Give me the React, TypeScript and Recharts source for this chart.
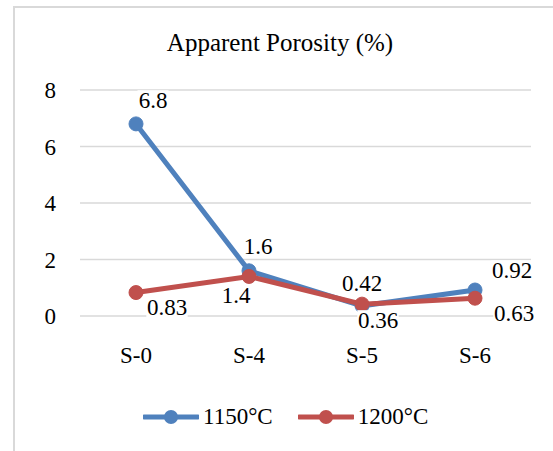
import { LineChart, Line, XAxis, YAxis, CartesianGrid, LabelList } from 'recharts';

const samples = ['S-0', 'S-4', 'S-5', 'S-6'];
const porosity1150 = [6.8, 1.6, 0.36, 0.92];
const porosity1200 = [0.83, 1.4, 0.42, 0.63];
const yTicks = [0, 2, 4, 6, 8];

const seriesInfo = [
    { key: 't1150', name: '1150°C', color: '#4f81bd' },
    { key: 't1200', name: '1200°C', color: '#c0504d' },
];

// label offsets from each point, as Excel placed them
const offsets1150 = [[17, -24], [9, -25], [16, 14], [37, -20]];
const offsets1200 = [[31, 15], [-13, 19], [0, -21], [39, 15]];

const data = samples.map((s, i) => ({
    name: s,
    t1150: porosity1150[i],
    t1200: porosity1200[i],
}));

const FONT = "'Liberation Serif', 'Times New Roman', serif";
const FS = 23;

function makeLabel(offsets: number[][]) {
    return (props: any) => {
        const { x, y, value, index } = props;
        const [dx, dy] = offsets[index];
        const txt = String(value);
        const w = txt.length * FS * 0.45;
        return (
            <g>
                <rect x={x + dx - w / 2} y={y + dy - FS * 0.42} width={w} height={FS * 0.84} fill="#fff" />
                <text x={x + dx} y={y + dy} dy="0.34em" textAnchor="middle" fontSize={FS} fill="#000">
                    {txt}
                </text>
            </g>
        );
    };
}

export default function App() {
    return (
        <div style={{ position: 'absolute', left: 0, top: 0, width: 553, height: 451, overflow: 'hidden', background: '#fff', fontFamily: FONT }}>
            <style>{`.recharts-wrapper text, .recharts-wrapper tspan { font-family: ${FONT} !important; }`}</style>
            <div style={{ position: 'absolute', left: 13, top: 6, width: 600, height: 500, border: '2px solid #d9d9d9' }} />
            <div style={{ position: 'absolute', left: 0, top: 28, width: 560, textAlign: 'center', fontSize: 25, lineHeight: '30px', color: '#000' }}>
                Apparent Porosity (%)
            </div>
            <div style={{ position: 'absolute', left: 0, top: 0 }}>
                <LineChart width={553} height={451} data={data} margin={{ top: 90, right: 22, left: 0, bottom: 95 }}>
                    <CartesianGrid vertical={false} stroke="#d9d9d9" strokeWidth={1.5} />
                    <XAxis
                        dataKey="name"
                        axisLine={false}
                        tickLine={false}
                        tickSize={0}
                        tickMargin={31}
                        height={40}
                        padding={{ left: 56, right: 56 }}
                        tick={{ fill: '#000', fontSize: FS }}
                    />
                    <YAxis
                        domain={[0, 8]}
                        ticks={yTicks}
                        axisLine={false}
                        tickLine={false}
                        tickSize={0}
                        tickMargin={24}
                        width={80}
                        tick={{ fill: '#000', fontSize: FS }}
                    />
                    <Line
                        dataKey="t1150"
                        name="1150°C"
                        stroke="#4f81bd"
                        strokeWidth={5}
                        dot={{ r: 7, fill: '#4f81bd', stroke: '#4f81bd', strokeWidth: 1 }}
                        isAnimationActive={false}
                    >
                        <LabelList dataKey="t1150" content={makeLabel(offsets1150)} />
                    </Line>
                    <Line
                        dataKey="t1200"
                        name="1200°C"
                        stroke="#c0504d"
                        strokeWidth={5}
                        dot={{ r: 7, fill: '#c0504d', stroke: '#c0504d', strokeWidth: 1 }}
                        isAnimationActive={false}
                    >
                        <LabelList dataKey="t1200" content={makeLabel(offsets1200)} />
                    </Line>
                </LineChart>
            </div>
            <div style={{ position: 'absolute', left: 143, top: 402, display: 'flex', alignItems: 'center', fontSize: FS, lineHeight: '30px', color: '#000' }}>
                {seriesInfo.map((s, i) => (
                    <div key={s.key} style={{ display: 'flex', alignItems: 'center', marginRight: i === 0 ? 25 : 0 }}>
                        <svg width={56} height={16} style={{ marginRight: 4 }}>
                            <line x1={1} y1={8} x2={55} y2={8} stroke={s.color} strokeWidth={5} strokeLinecap="round" />
                            <circle cx={28} cy={8} r={7} fill={s.color} />
                        </svg>
                        <span>{s.name}</span>
                    </div>
                ))}
            </div>
        </div>
    );
}
